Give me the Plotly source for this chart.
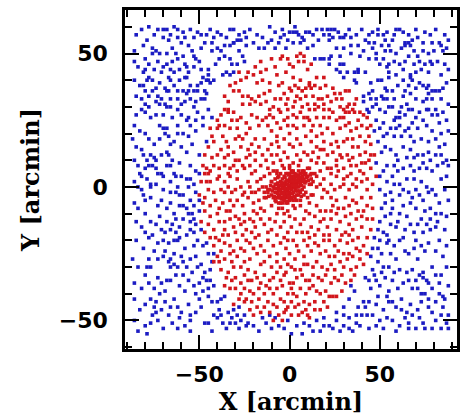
import plotly.graph_objects as go

# Blue points (outer field), data units [arcmin]
blue_pts = [
(-78,60),(-73,59),(-68,59),(-64,60),(-62,59),(-51,58),(-49,57),(-46,57),(-42,56),(-38,57),(-31,59),(-28,57),(-25,58),(-24,56),(-29,55),(-31,54),(-11,60),(-4,59),(0,58),(-5,56),(-1,55),
(-70,56),(-67,55),(-62,56),(-58,56),(-81,53),(-76,52),(-74,51),(-72,50),(-68,50),(-60,54),(-56,53),(-47,54),(-43,54),(-36,53),(-33,53),(-31,54),(-20,54),(-14,52),(-12,54),(-10,55),(-6,54),
(-80,48),(-76,50),(-63,50),(-59,49),(-62,48),(-53,49),(-52,48),(-43,51),(-38,51),(-33,48),(-26,49),(-25,47),(-32,46),(-29,46),(-36,49),(-58,46),(-57,45),
(-80,44),(-81,43),(-75,44),(-70,45),(-71,43),(-66,44),(-64,43),(-58,41),(-57,41),(-56,43),(-45,44),(-45,42),(-45,40),(-35,43),(-33,42),(-31,43),(-37,42),
(-78,41),(-79,40),(-67,41),(-66,40),(-46,40),(-44,39),(-42,40),(-51,38),(-59,36),(-81,38),(-80,36),(-74,37),(-69,37),(-68,36),(-67,36),(-53,36),(-51,36),(-47,36),(-46,35),
(-62,36),(-76,36),(-73,34),(-71,33),(-62,33),(-57,35),(-56,36),(-49,33),(-47,33),(-80,31),(-78,30),(-74,32),(-69,31),(-72,31),(-68,30),(-66,30),(-62,29),(-58,32),(-55,33),(-53,30),(-45,29),(-82,29),(-80,28),
(-74,27),(-57,25),(-56,26),(-43,26),
(2,58),(4,58),(5,57),(9,58),(11,58),(13,57),(18,59),(21,59),(23,59),(25,59),(22,57),(24,56),(22,55),(28,56),(31,57),(30,56),(34,56),(44,57),(49,59),(49,57),(52,57),(54,58),(57,55),(59,59),(61,59),(64,54),(66,54),(70,59),(71,56),(74,54),(83,54),(84,53),
(2,54),(6,54),(8,55),(14,48),(17,48),(19,48),(23,49),(28,49),(30,52),(34,53),(34,50),(39,49),(44,54),(46,52),(48,50),(47,54),(51,53),(55,53),(56,51),(59,50),(64,53),(67,53),(71,49),(74,51),(77,50),(80,51),(85,51),(78,47),(22,48),
(22,46),(28,46),(30,46),(26,44),(28,43),(32,43),(36,43),(38,43),(44,48),(48,48),(52,48),(55,46),(61,46),(64,47),(66,49),(73,44),(75,46),(79,46),(42,43),(38,44),(55,43),(67,42),(67,41),
(30,41),(36,40),(37,39),(45,39),(49,40),(51,40),(55,41),(68,40),(72,39),(74,38),(77,38),(76,37),(79,36),(81,36),(83,36),(64,36),(57,36),(53,37),(54,36),(46,36),(44,35),(41,34),(77,35),
(45,33),(48,33),(51,34),(41,32),(43,29),(46,30),(50,29),(54,33),(55,30),(62,30),(65,31),(66,29),(61,28),(61,26),(59,26),(58,25),(68,29),(72,28),(76,29),(77,29),(81,29),(82,27),(44,28),(76,33),(79,33),(70,33),(74,32),
(-83,21),(-78,18),(-72,23),(-70,22),(-68,22),(-69,20),(-67,19),(-64,17),(-59,20),(-56,19),(-48,23),(-46,17),(-82,14),(-81,12),(-79,10),(-78,8),(-80,7),(-83,5),(-82,4),(-77,12),(-75,11),(-74,10),(-76,8),(-74,7),(-73,5),(-71,5),(-70,4),
(-68,13),(-67,12),(-68,8),(-66,8),(-64,5),(-63,4),(-60,4),(-57,13),(-57,3),(-50,12),(-56,0),(-53,1),(-77,1),(-77,0),(-66,2),(-82,-1),(-81,-3),(-80,-5),(-66,-2),(-63,-2),(-61,-3),(-52,-2),(-50,-5),(-53,-7),(-66,-6),(-61,-7),(-73,-7),
(-80,-10),(-77,-13),(-74,-14),(-69,-17),(-64,-10),(-63,-12),(-65,-14),(-61,-15),(-57,-8),(-56,-10),(-54,-10),(-55,-13),(-53,-12),(-50,-9),(-49,-16),(-80,-17),(-53,-17),(-55,-16),(-66,-16),
(47,21),(50,22),(54,20),(56,22),(59,22),(62,19),(64,21),(66,22),(67,19),(71,22),(76,23),(79,21),(81,18),(84,20),(49,17),(51,13),(56,14),(59,12),(63,15),(67,14),(71,12),(74,12),(78,10),(81,12),(84,12),(87,10),
(48,9),(54,8),(58,8),(63,7),(67,8),(72,7),(76,7),(79,6),(82,8),(85,9),(50,4),(54,2),(57,4),(61,1),(65,3),(69,3),(73,2),(76,0),(79,-1),(81,-3),(77,-2),(70,-1),(56,-2),(50,-1),
(53,-6),(57,-5),(61,-3),(66,-2),(68,-4),(67,-6),(74,-5),(78,-8),(81,-10),(84,-10),(78,-12),(73,-12),(76,-14),(71,-14),(65,-11),(61,-10),(56,-10),(51,-8),(50,-13),(56,-14),(59,-15),(64,-16),(69,-17),(74,-17),(78,-16),(81,-15),(52,-17),(49,-16),(54,-18),
(-81,-23),(-78,-19),(-73,-21),(-70,-20),(-67,-21),(-64,-20),(-62,-20),(-61,-19),(-58,-23),(-53,-22),(-48,-22),(-45,-25),(-42,-25),(-43,-28),(-78,-27),(-79,-30),(-77,-30),(-73,-27),(-70,-26),(-67,-28),(-66,-27),(-66,-30),(-64,-29),(-62,-30),(-59,-28),(-55,-27),(-52,-26),(-51,-30),
(-47,-32),(-48,-34),(-46,-35),(-44,-35),(-42,-37),(-45,-38),(-80,-33),(-73,-34),(-71,-36),(-68,-35),(-66,-35),(-63,-33),(-59,-33),(-56,-35),(-53,-37),(-72,-40),(-74,-43),(-75,-45),(-74,-47),(-76,-48),(-73,-50),(-77,-51),(-80,-52),(-83,-46),
(-69,-43),(-66,-45),(-64,-42),(-62,-45),(-60,-47),(-61,-49),(-56,-44),(-55,-48),(-55,-50),(-58,-52),(-52,-40),(-50,-42),(-45,-41),(-43,-43),(-40,-43),(-38,-42),(-42,-48),(-40,-49),(-37,-51),(-45,-51),(-34,-47),(-31,-46),(-30,-51),(-28,-53),
(-25,-48),(-24,-52),(-23,-51),(-29,-48),(-33,-51),(-15,-49),(-11,-48),(-6,-52),(-10,-53),(-1,-50),(-36,-41),(-55,-54),
(47,-19),(50,-20),(49,-23),(51,-25),(45,-26),(49,-28),(54,-21),(61,-20),(56,-25),(59,-27),(64,-24),(66,-25),(69,-23),(71,-27),(73,-22),(77,-21),(81,-24),(85,-26),(79,-30),(74,-32),(72,-33),(74,-34),(76,-35),(77,-36),(79,-38),(83,-36),(84,-33),
(68,-31),(65,-32),(61,-31),(55,-30),(52,-30),(46,-31),(42,-34),(44,-35),(48,-35),(53,-34),(57,-35),(63,-36),(66,-35),(71,-38),(73,-40),(77,-42),(81,-43),(85,-41),(86,-42),(34,-37),(36,-39),(33,-42),(38,-45),(41,-43),(44,-43),(49,-41),(54,-41),
(55,-43),(59,-45),(62,-42),(65,-47),(68,-48),(71,-46),(77,-45),(79,-47),(81,-50),(84,-48),(87,-51),(74,-51),(70,-53),(66,-51),(61,-52),(57,-50),(54,-49),(50,-50),(46,-48),(43,-48),(37,-48),(33,-49),(30,-48),(26,-50),(22,-52),(19,-49),(15,-50),
(11,-52),(8,-51),(4,-52),(19,-52),(28,-54),(33,-53),(44,-53),(39,-52),(66,-53),(75,-53),
]

# Additional blue points filling the outer field
blue_extra = [
(-85,57),(-82,59),(-75,57),(-70,59),(-66,57),(-59,58),(-55,59),(-53,56),(-44,59),(-40,58),(-35,56),(-33,59),(-27,55),(-22,59),(-18,57),(-15,56),(-8,58),(-3,57),(3,60),(7,56),(15,59),(16,55),(19,57),(27,58),(33,59),(37,57),(40,59),(42,55),(46,58),(53,55),
(58,57),(63,58),(66,57),(68,55),(75,58),(78,57),(81,59),(86,57),(88,55),(-86,51),(-79,55),(-65,52),(-54,51),(-49,52),(-40,52),(-28,51),(-24,53),(-17,52),(-8,52),(-2,52),(10,52),(13,53),(26,52),(38,53),(41,51),(53,51),(62,52),(69,51),(79,54),(87,52),
(-86,47),(-84,45),(-78,46),(-73,47),(-68,46),(-65,47),(-61,44),(-53,45),(-49,44),(-48,41),(-41,46),(-39,48),(-50,47),(-86,40),(-83,38),(-76,40),(-72,39),(-64,38),(-61,40),(-55,38),(-49,39),(-85,34),(-82,33),(-78,34),(-66,33),(-60,31),(-52,32),
(-85,27),(-77,26),(-70,27),(-65,26),(-60,27),(-51,28),(-48,26),(-86,23),(-62,23),(-55,23),(-52,25),
(50,46),(54,45),(58,47),(63,44),(69,46),(72,47),(82,47),(86,46),(88,44),(59,42),(63,40),(70,43),(77,43),(84,42),(87,39),(60,38),(66,38),(70,37),(85,37),(52,33),(58,33),(63,34),(67,35),(84,33),(88,31),(48,31),(53,28),(57,30),(64,27),(70,26),
(79,27),(85,28),(87,25),(48,25),(52,24),(68,24),(74,25),(83,24),
(-87,18),(-85,15),(-80,20),(-75,16),(-72,18),(-66,16),(-62,20),(-60,15),(-54,16),(-52,21),(-86,10),(-84,8),(-71,12),(-65,10),(-61,9),(-55,8),(-52,6),(-86,2),(-84,0),(-79,3),(-74,1),(-70,-1),(-62,0),(-59,-3),(-55,3),(-86,-6),(-84,-8),(-77,-4),
(-71,-5),(-68,-8),(-59,-7),(-55,-5),(-85,-13),(-82,-15),(-72,-11),(-68,-13),(-59,-12),(-52,-14),(-85,-20),(-76,-18),(-71,-16),(-63,-17),(-57,-18),(-51,-20),(-46,-21),(-50,5),
(52,19),(58,19),(61,23),(69,17),(73,18),(77,17),(86,16),(88,21),(53,15),(60,10),(65,11),(69,11),(77,13),(83,15),(88,8),(52,6),(60,6),(69,6),(74,9),(87,4),(84,3),(53,-3),(58,1),(63,-1),(72,-3),(86,-1),(88,-5),(57,-8),(63,-7),(70,-8),(75,-9),
(83,-6),(87,-11),(53,-11),(60,-13),(67,-14),(82,-13),(86,-16),(55,-20),(58,-22),(63,-19),(70,-20),(75,-24),(83,-20),(87,-22),(46,-23),
(-87,-27),(-84,-30),(-75,-24),(-69,-24),(-64,-25),(-60,-26),(-57,-30),(-54,-32),(-49,-29),(-44,-31),(-86,-36),(-82,-38),(-78,-36),(-75,-38),(-69,-39),(-61,-37),(-58,-39),(-50,-36),(-48,-39),(-86,-42),(-80,-44),(-77,-42),(-71,-46),(-67,-48),
(-65,-51),(-70,-53),(-62,-53),(-52,-47),(-49,-45),(-47,-51),(-43,-54),(-39,-46),(-35,-53),(-32,-49),(-27,-50),(-20,-52),(-17,-54),(-13,-51),(-8,-49),(-3,-53),(1,-55),(-86,-50),(-84,-54),(-79,-55),(-28,-45),(-38,-48),
(45,-38),(50,-37),(55,-39),(60,-38),(68,-38),(75,-40),(83,-40),(88,-37),(47,-33),(51,-32),(58,-32),(70,-35),(81,-33),(87,-30),(48,-44),(52,-46),(57,-43),(62,-46),(67,-44),(73,-43),(85,-45),(88,-48),(37,-51),(40,-48),(48,-52),(52,-53),
(59,-54),(64,-49),(72,-49),(79,-53),(84,-53),(88,-53),(13,-54),(24,-53),(30,-52),(35,-54),(7,-55),(17,-54),(42,-45),(30,-45),(26,-47),
]

# Red points (inner region, r < ~50 arcmin)
red_pts = [
(-16,47),(-5,48),(-4,49),(-1,48),(0,46),(-28,43),(-23,43),(-20,42),(-16,43),(-15,40),(-11,39),(-4,39),(-30,39),(-33,38),(-28,36),(-31,36),(-23,34),(-21,33),(-17,34),(-14,35),(-11,36),(-8,33),(-5,33),(-1,33),(0,37),
(-22,31),(-19,32),(-16,31),(-11,29),(-6,29),(-1,29),(-36,29),(-34,29),(-31,28),(-34,28),(-27,26),(-21,27),(-18,26),(-11,27),(-9,26),(-5,28),(-1,26),(-40,25),(-32,25),(-15,25),(-7,24),
(4,49),(6,50),(8,49),(5,47),(8,47),(2,41),(1,36),(3,38),(5,37),(7,36),(9,37),(11,38),(12,37),(14,38),(15,41),(11,39),(4,34),(9,34),(13,34),(16,33),(18,33),(19,31),(16,30),(2,30),(7,30),(11,29),(14,29),(19,29),(22,29),
(4,26),(8,26),(10,26),(11,25),(15,26),(19,26),(22,26),(24,37),(25,35),(28,35),(26,33),(28,30),(30,29),(32,30),(33,31),(35,29),(36,28),(33,28),(31,28),(28,26),(33,36),(37,33),(24,28),(38,25),
(-44,22),(-39,23),(-36,23),(-33,22),(-29,22),(-28,19),(-24,20),(-22,22),(-17,23),(-12,23),(-10,21),(-5,22),(-1,23),(-30,18),(-26,18),(-19,18),(-14,18),(-7,19),(-3,18),(0,20),
(-45,15),(-42,17),(-38,14),(-34,15),(-34,12),(-31,13),(-27,15),(-23,14),(-22,12),(-19,13),(-15,12),(-12,14),(-10,12),(-6,15),(-3,13),(-1,11),(-5,10),(-9,9),
(-48,8),(-46,7),(-47,5),(-45,5),(-42,8),(-39,7),(-36,8),(-34,5),(-31,8),(-28,10),(-26,8),(-25,7),(-22,8),(-19,6),(-16,8),(-12,7),(-11,5),(-7,5),(-14,4),(-3,7),(0,8),
(-49,2),(-44,2),(-40,3),(-36,2),(-33,4),(-29,3),(-27,0),(-23,2),(-22,0),(-18,2),(-15,0),(-19,-2),(-25,-2),(-32,-2),(-36,-2),(-42,-2),(-45,-1),(-47,-4),(-41,-5),(-37,-6),(-33,-5),(-29,-5),(-23,-4),(-20,-6),(-17,-5),(-13,-4),(-12,-1),
(-47,-9),(-44,-11),(-40,-10),(-36,-13),(-33,-9),(-28,-12),(-25,-10),(-22,-12),(-18,-10),(-14,-9),(-11,-12),(-7,-10),(-3,-13),(0,-11),(-45,-14),(-42,-16),(-36,-16),(-31,-15),(-27,-14),(-24,-16),(-19,-15),(-14,-14),(-10,-16),(-5,-15),(-1,-17),(-47,-17),(-34,-18),
(2,23),(4,22),(8,23),(12,21),(15,19),(18,20),(21,22),(24,20),(28,22),(31,23),(34,21),(37,22),(40,23),(43,22),(45,23),(39,19),(35,18),(32,18),(26,17),(23,16),(19,17),(12,17),(6,16),(2,15),(8,13),(13,13),(17,14),(21,12),(24,13),(28,12),(32,12),
(35,11),(39,12),(42,13),(45,12),(44,10),(40,9),(37,8),(34,8),(30,7),(26,8),(23,7),(19,9),(15,9),(12,10),(6,10),(2,9),(12,5),(15,4),(19,3),(23,5),(26,4),(30,3),(34,5),(37,3),(41,5),(45,7),(43,3),(37,0),(33,-1),(28,0),(23,1),(19,-1),(15,0),(12,1),
(13,-3),(18,-4),(23,-4),(26,-5),(31,-4),(35,-5),(40,-4),(45,-4),(43,-7),(38,-9),(34,-10),(30,-8),(24,-7),(20,-9),(15,-7),(11,-6),(9,-9),(14,-11),(19,-12),(23,-12),(28,-13),(33,-14),(37,-12),(43,-12),(40,-15),(35,-16),(31,-17),(26,-16),(21,-15),
(16,-16),(12,-15),(6,-14),(4,-17),(10,-17),(22,-18),(45,-16),
(-39,-20),(-36,-21),(-33,-22),(-29,-20),(-27,-23),(-24,-20),(-22,-21),(-19,-19),(-16,-22),(-12,-20),(-9,-22),(-5,-21),(-1,-20),(-40,-26),(-36,-27),(-33,-25),(-29,-26),(-25,-28),(-22,-27),(-18,-25),(-14,-28),(-11,-26),(-7,-28),(-3,-27),(0,-25),
(-38,-31),(-34,-32),(-31,-30),(-30,-34),(-27,-36),(-23,-35),(-19,-32),(-16,-36),(-14,-33),(-11,-35),(-7,-32),(-3,-33),(0,-36),(-36,-37),(-33,-38),(-27,-40),(-24,-42),(-21,-43),(-18,-45),(-20,-40),(-14,-40),(-11,-38),(-7,-38),(-5,-42),(-1,-40),
(-31,-44),(-25,-43),(-14,-45),(-9,-44),(-3,-47),(-1,-45),(-20,-48),
(2,-20),(4,-22),(8,-20),(11,-19),(14,-21),(19,-20),(22,-20),(25,-22),(28,-20),(32,-21),(35,-20),(37,-23),(39,-24),(43,-25),(33,-25),(30,-25),(25,-26),(22,-26),(17,-25),(12,-24),(8,-26),(3,-27),(1,-30),(6,-31),(10,-29),(13,-30),(18,-30),
(21,-31),(25,-31),(30,-30),(34,-31),(37,-30),(41,-29),(4,-34),(9,-35),(13,-33),(18,-35),(23,-36),(27,-35),(31,-36),(34,-35),(24,-41),(22,-41),(26,-41),(15,-39),(11,-38),(6,-38),(2,-40),(8,-43),(11,-44),(19,-43),(21,-45),(9,-46),(3,-45),
(5,-48),(10,-48),(11,-49),
]

# Additional red points filling the inner region
red_extra = [
(-10,48),(-8,45),(-13,44),(-19,45),(-24,41),(-7,42),(-2,43),(2,45),(10,44),(12,46),(-27,40),(-18,39),(-6,38),(17,37),(20,38),(19,41),(6,40),(-36,34),(-34,32),(-26,31),(-26,34),(-13,32),(-9,30),(-3,35),(-2,31),(3,32),(6,33),(10,31),(14,31),
(21,34),(23,32),(29,33),(31,36),(36,31),(39,28),(41,27),(-38,27),(-40,22),(-29,25),(-24,24),(-13,26),(-3,25),(2,27),(6,28),(13,23),(17,23),(26,25),(30,26),(33,24),(43,26),(44,19),(42,17),(-43,19),(-37,19),(-35,17),(-21,16),(-17,15),(-10,16),
(-7,17),(0,16),(4,18),(9,19),(15,15),(19,14),(27,15),(30,17),(35,15),(38,15),(45,16),(47,12),(-47,12),(-43,11),(-40,12),(-36,11),(-30,10),(-24,11),(-19,10),(-13,10),(-7,12),(-4,8),(4,12),(10,12),(16,11),(26,10),(29,11),(33,10),(42,9),(48,4),
(-50,-3),(-44,6),(-39,4),(-33,7),(-29,6),(-21,5),(-16,3),(-10,2),(8,6),(11,7),(17,6),(21,7),(27,6),(32,4),(39,6),(46,1),(-46,2),(-38,-1),(-34,0),(-30,-1),(-26,-3),(-21,-2),(-17,-1),(-14,-2),(17,1),(21,-2),(25,-1),(30,1),(35,1),(40,2),(43,-1),
(-48,-6),(-44,-7),(-39,-8),(-35,-9),(-31,-7),(-26,-7),(-20,-9),(-16,-8),(-10,-7),(-6,-8),(-1,-9),(3,-8),(6,-7),(17,-9),(23,-9),(27,-8),(33,-7),(37,-6),(41,-9),(46,-8),(-49,-13),(-39,-13),(-33,-12),(-30,-11),(-25,-13),(-20,-13),(-16,-12),
(-8,-13),(-3,-10),(3,-12),(8,-12),(11,-10),(17,-13),(26,-10),(31,-11),(40,-11),(46,-12),(-44,-19),(-41,-19),(-37,-18),(-30,-17),(-26,-18),(-21,-17),(-17,-18),(-12,-17),(-7,-18),(-3,-19),(1,-15),(7,-17),(14,-18),(19,-18),(29,-18),(33,-18),
(38,-19),(43,-19),(-42,-22),(-38,-24),(-31,-24),(-25,-24),(-20,-23),(-14,-24),(-7,-25),(-2,-23),(5,-24),(10,-22),(16,-22),(20,-24),(27,-24),(35,-26),(41,-22),(-42,-28),(-39,-28),(-32,-28),(-27,-30),(-23,-31),(-16,-29),(-10,-30),(-5,-30),
(-1,-29),(3,-31),(8,-29),(15,-28),(23,-29),(28,-28),(32,-27),(39,-27),(-35,-34),(-32,-35),(-25,-33),(-21,-35),(-18,-34),(-9,-34),(-5,-35),(-2,-32),(2,-36),(7,-33),(11,-35),(16,-34),(20,-33),(25,-34),(29,-33),(36,-33),(-30,-38),(-25,-38),
(-22,-39),(-17,-38),(-13,-37),(-9,-40),(-4,-37),(1,-38),(4,-41),(9,-40),(13,-37),(17,-40),(20,-39),(29,-39),(-28,-42),(-17,-42),(-12,-43),(-7,-45),(-3,-43),(1,-43),(5,-44),(14,-43),(17,-46),(-22,-46),(-16,-47),(-11,-47),(-6,-48),(1,-48),
(7,-47),(14,-46),(-9,-50),(-4,-50),(-2,-46),
]

# Dense central core of red points
core_pts = [
(0,0),(1,1),(-1,-1),(2,0),(-2,1),(0,2),(0,-2),(3,2),(-3,-2),(2,-2),(-2,2),(4,1),(-4,0),(1,3),(-1,-3),(5,3),(-5,-1),(3,-1),(-3,1),(6,2),(-6,-3),(4,4),(-4,-4),(7,4),(-7,1),(2,4),(-2,-4),(5,0),(-5,2),(8,3),(-8,-2),(6,5),(-6,4),(1,-4),(-1,5),
(3,5),(-3,-5),(9,2),(-9,0),(7,-1),(-7,-4),(4,-3),(-4,3),(6,-2),(-6,0),(2,6),(-2,-6),(0,5),(0,-5),(8,5),(5,6),(-5,5),(10,4),(-10,-3),(9,-2),(-8,3),(3,-4),(-3,4),(1,2),(-1,-2),(2,1),(-2,-1),(1,-1),(-1,1),(3,0),(-3,0),(0,3),(0,-3),
(4,2),(-4,-2),(5,-3),(-5,-4),(6,1),(-6,-1),(7,2),(-7,-2),(8,0),(-8,-5),(4,-5),(-4,-6),(2,-5),(-2,5),(5,4),(-5,-6),(3,3),(-3,-3),(7,6),(-7,6),(9,5),(-9,-4),(11,1),(-11,-1),(10,-4),(-10,2),(6,-5),(-6,-6),(1,6),(-1,-6),(12,3),(-12,-2),
(2,3),(-2,-3),(4,0),(-4,1),(1,4),(-1,-4),(6,3),(-6,-4),(8,-3),(-8,1),
(0.5,0.5),(-0.5,0.5),(0.5,-0.5),(-0.5,-0.5),(1.5,0.5),(-1.5,-0.5),(2.5,1.5),(-2.5,-1.5),(1.5,2.5),(-1.5,-2.5),(3.5,0.5),(-3.5,-0.5),(4.5,2.5),(-4.5,-2.5),(2.5,3.5),(-2.5,-3.5),(5.5,1.5),(-5.5,-1.5),(6.5,3.5),(-6.5,-2.5),(3.5,-1.5),
(-3.5,1.5),(1.5,-2.5),(-1.5,2.5),(0.5,3.5),(-0.5,-3.5),(4.5,4.5),(-4.5,-4.5),(7.5,2.5),(-7.5,-0.5),(5.5,-1.5),(-5.5,0.5),(2.5,-3.5),(-2.5,3.5),(8.5,4.5),(-8.5,-3.5),(3.5,4.5),(-3.5,-4.5),(6.5,0.5),(-6.5,1.5),(9.5,3.5),(-9.5,-1.5),
(1.5,5.5),(-1.5,-5.5),(4.5,-1.5),(-4.5,1.5),(0.5,-4.5),(-0.5,4.5),(7.5,5.5),(-7.5,-5.5),(10.5,2.5),(-10.5,0.5),(5.5,3.5),(-5.5,-3.5),(2.5,0.5),(-2.5,-0.5),(3.5,2.5),(-3.5,-2.5),(6.5,-3.5),(-6.5,3.5),(11.5,4.5),(-11.5,-3.5),(8.5,1.5),
(-8.5,-0.5),(13,2),(-13,0),(12,-3),(10,7),(-9,6),(5,8),(-4,-8),(0,7),(2,-7),(14,5),(-14,-4),
]

all_blue = blue_pts + blue_extra
all_red = red_pts + red_extra + core_pts
blue_x = [p[0] for p in all_blue]
blue_y = [p[1] for p in all_blue]
red_x = [p[0] for p in all_red]
red_y = [p[1] for p in all_red]

fig = go.Figure()
fig.add_trace(go.Scatter(x=blue_x, y=blue_y, mode="markers",
                         marker=dict(symbol="square", size=3.6, color="rgb(28,28,195)", line=dict(width=0)),
                         hoverinfo="skip"))
fig.add_trace(go.Scatter(x=red_x, y=red_y, mode="markers",
                         marker=dict(symbol="square", size=3.6, color="rgb(210,22,28)", line=dict(width=0)),
                         hoverinfo="skip"))

axis_common = dict(
    showline=True, linewidth=2.5, linecolor="black", mirror="ticks",
    ticks="inside", ticklen=14, tickwidth=2, tickcolor="black",
    showgrid=False, zeroline=False,
    tickfont=dict(family="DejaVu Sans", size=22, color="black", weight="bold"),
    minor=dict(dtick=10, ticks="inside", ticklen=7, tickwidth=2, tickcolor="black", showgrid=False),
)

fig.update_layout(
    width=460, height=420,
    margin=dict(l=125, r=0, t=10, b=71),
    paper_bgcolor="white", plot_bgcolor="white",
    showlegend=False,
    xaxis=dict(range=[-91.2, 92.8], dtick=50, tick0=0, ticklabelstandoff=4,
               title=dict(text="X [arcmin]", standoff=0,
                          font=dict(family="DejaVu Serif", size=24, color="black", weight="bold")),
               **axis_common),
    yaxis=dict(range=[-60.7, 66.3], dtick=50, tick0=0, ticklabelstandoff=10,
               title=dict(text="Y [arcmin]", standoff=13,
                          font=dict(family="DejaVu Serif", size=24, color="black", weight="bold")),
               **axis_common),
)

fig.write_html("out.html")
